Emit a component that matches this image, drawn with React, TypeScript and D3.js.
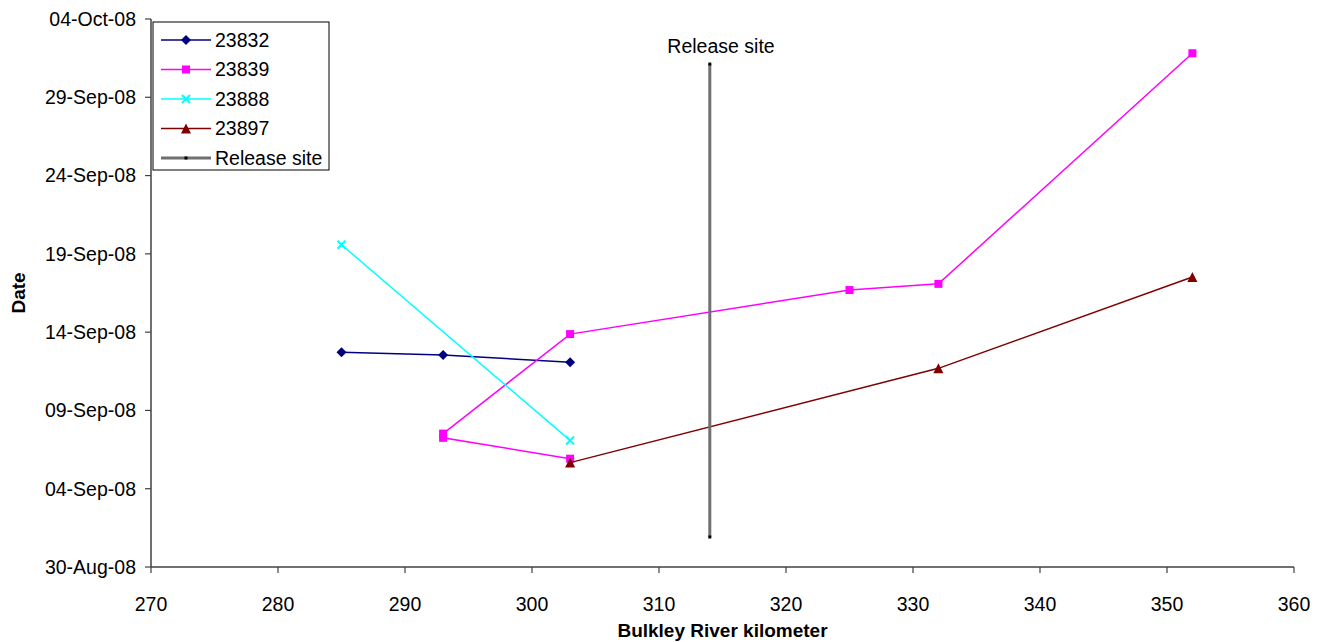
import React from "react";
import * as d3 from "d3";

const xTicks = [270, 280, 290, 300, 310, 320, 330, 340, 350, 360];
const yTickLabels = ["30-Aug-08", "04-Sep-08", "09-Sep-08", "14-Sep-08", "19-Sep-08", "24-Sep-08", "29-Sep-08", "04-Oct-08"];
const yTickDates = ["2008-08-30T00:00", "2008-09-04T00:00", "2008-09-09T00:00", "2008-09-14T00:00", "2008-09-19T00:00", "2008-09-24T00:00", "2008-09-29T00:00", "2008-10-04T00:00"];

const km23832 = [285, 293, 303];
const date23832 = ["2008-09-12T17:00", "2008-09-12T13:00", "2008-09-12T02:00"];

const km23839 = [303, 293, 293, 303, 325, 332, 352];
const date23839 = ["2008-09-05T22:00", "2008-09-07T06:00", "2008-09-07T12:30", "2008-09-13T21:00", "2008-09-16T16:30", "2008-09-17T02:00", "2008-10-01T19:30"];

const km23888 = [285, 303];
const date23888 = ["2008-09-19T14:00", "2008-09-07T02:00"];

const km23897 = [303, 332, 352];
const date23897 = ["2008-09-05T16:00", "2008-09-11T16:30", "2008-09-17T12:30"];

const kmRelease = [314, 314];
const dateRelease = ["2008-10-01T03:00", "2008-08-31T22:00"];

const seriesNames = ["23832", "23839", "23888", "23897", "Release site"];

const W = 1328, H = 642;
const L = 151, R = 1294, T = 19, B = 567;
const FONT = "Arial, 'Liberation Sans', sans-serif";
const FS = 19.5;

type S = { name: string; km: number[]; dates: string[]; color: string; marker: string; width: number };

const series: S[] = [
  { name: seriesNames[0], km: km23832, dates: date23832, color: "#000080", marker: "diamond", width: 1.5 },
  { name: seriesNames[1], km: km23839, dates: date23839, color: "#FF00FF", marker: "square", width: 1.5 },
  { name: seriesNames[2], km: km23888, dates: date23888, color: "#00FFFF", marker: "x", width: 1.5 },
  { name: seriesNames[3], km: km23897, dates: date23897, color: "#800000", marker: "triangle", width: 1.5 },
  { name: seriesNames[4], km: kmRelease, dates: dateRelease, color: "#707070", marker: "dot", width: 3 },
];

const parse = (s: string) => new Date(s);

function Marker({ type, x, y, color }: { type: string; x: number; y: number; color: string }) {
  if (type === "diamond") {
    return <path d={`M${x},${y - 5}L${x + 5},${y}L${x},${y + 5}L${x - 5},${y}Z`} fill={color} />;
  }
  if (type === "square") {
    return <rect x={x - 4} y={y - 4} width={8} height={8} fill={color} />;
  }
  if (type === "x") {
    return <path d={`M${x - 4},${y - 4}L${x + 4},${y + 4}M${x - 4},${y + 4}L${x + 4},${y - 4}`} stroke={color} strokeWidth={2} />;
  }
  if (type === "triangle") {
    return <path d={`M${x},${y - 5}L${x + 5},${y + 5}L${x - 5},${y + 5}Z`} fill={color} />;
  }
  return <rect x={x - 1.5} y={y - 1.5} width={3} height={3} fill="#000" />;
}

export default function App() {
  const x = d3.scaleLinear().domain([270, 360]).range([L, R]);
  const y = d3.scaleTime().domain([parse(yTickDates[0]), parse(yTickDates[yTickDates.length - 1])]).range([B, T]);
  const line = d3.line<[number, Date]>().x((d) => x(d[0])).y((d) => y(d[1]));

  const legX = 153, legY = 22, legW = 176, legH = 148;

  return (
    <svg width={W} height={H} style={{ position: "absolute", left: 0, top: 0, background: "#fff" }} fontFamily={FONT}>
      <rect width={W} height={H} fill="#fff" />
      {/* axes */}
      <line x1={L} y1={T} x2={L} y2={B} stroke="#404040" strokeWidth={1.5} />
      <line x1={L} y1={B} x2={R} y2={B} stroke="#404040" strokeWidth={1.5} />
      {yTickDates.map((d, i) => (
        <g key={d}>
          <line x1={L - 6} x2={L} y1={y(parse(d))} y2={y(parse(d))} stroke="#404040" strokeWidth={1.2} />
          <text x={L - 15} y={y(parse(d))} dy="0.35em" textAnchor="end" fontSize={FS} fill="#000">{yTickLabels[i]}</text>
        </g>
      ))}
      {xTicks.map((t) => (
        <g key={t}>
          <line x1={x(t)} x2={x(t)} y1={B} y2={B + 6} stroke="#404040" strokeWidth={1.2} />
          <text x={x(t)} y={B + 44} textAnchor="middle" fontSize={FS} fill="#000">{t}</text>
        </g>
      ))}
      <text x={(L + R) / 2} y={637} textAnchor="middle" fontSize={19} fontWeight="bold">Bulkley River kilometer</text>
      <text transform={`translate(25,${(T + B) / 2}) rotate(-90)`} textAnchor="middle" fontSize={19} fontWeight="bold">Date</text>

      {/* series */}
      {series.map((s) => {
        const pts: [number, Date][] = s.km.map((k, i) => [k, parse(s.dates[i])]);
        return (
          <g key={s.name}>
            <path d={line(pts) || ""} fill="none" stroke={s.color} strokeWidth={s.width} />
            {pts.map((p, i) => (
              <Marker key={i} type={s.marker} x={x(p[0])} y={y(p[1])} color={s.color} />
            ))}
          </g>
        );
      })}
      <text x={721} y={53} textAnchor="middle" fontSize={FS}>Release site</text>

      {/* legend */}
      <rect x={legX} y={legY} width={legW} height={legH} fill="#fff" stroke="#000" strokeWidth={1} />
      {series.map((s, i) => {
        const cy = 40 + i * 29.5;
        return (
          <g key={s.name}>
            <line x1={161} x2={211} y1={cy} y2={cy} stroke={s.color} strokeWidth={s.width} />
            <Marker type={s.marker} x={186} y={cy} color={s.color} />
            <text x={215} y={cy} dy="0.35em" fontSize={FS}>{s.name}</text>
          </g>
        );
      })}
    </svg>
  );
}
